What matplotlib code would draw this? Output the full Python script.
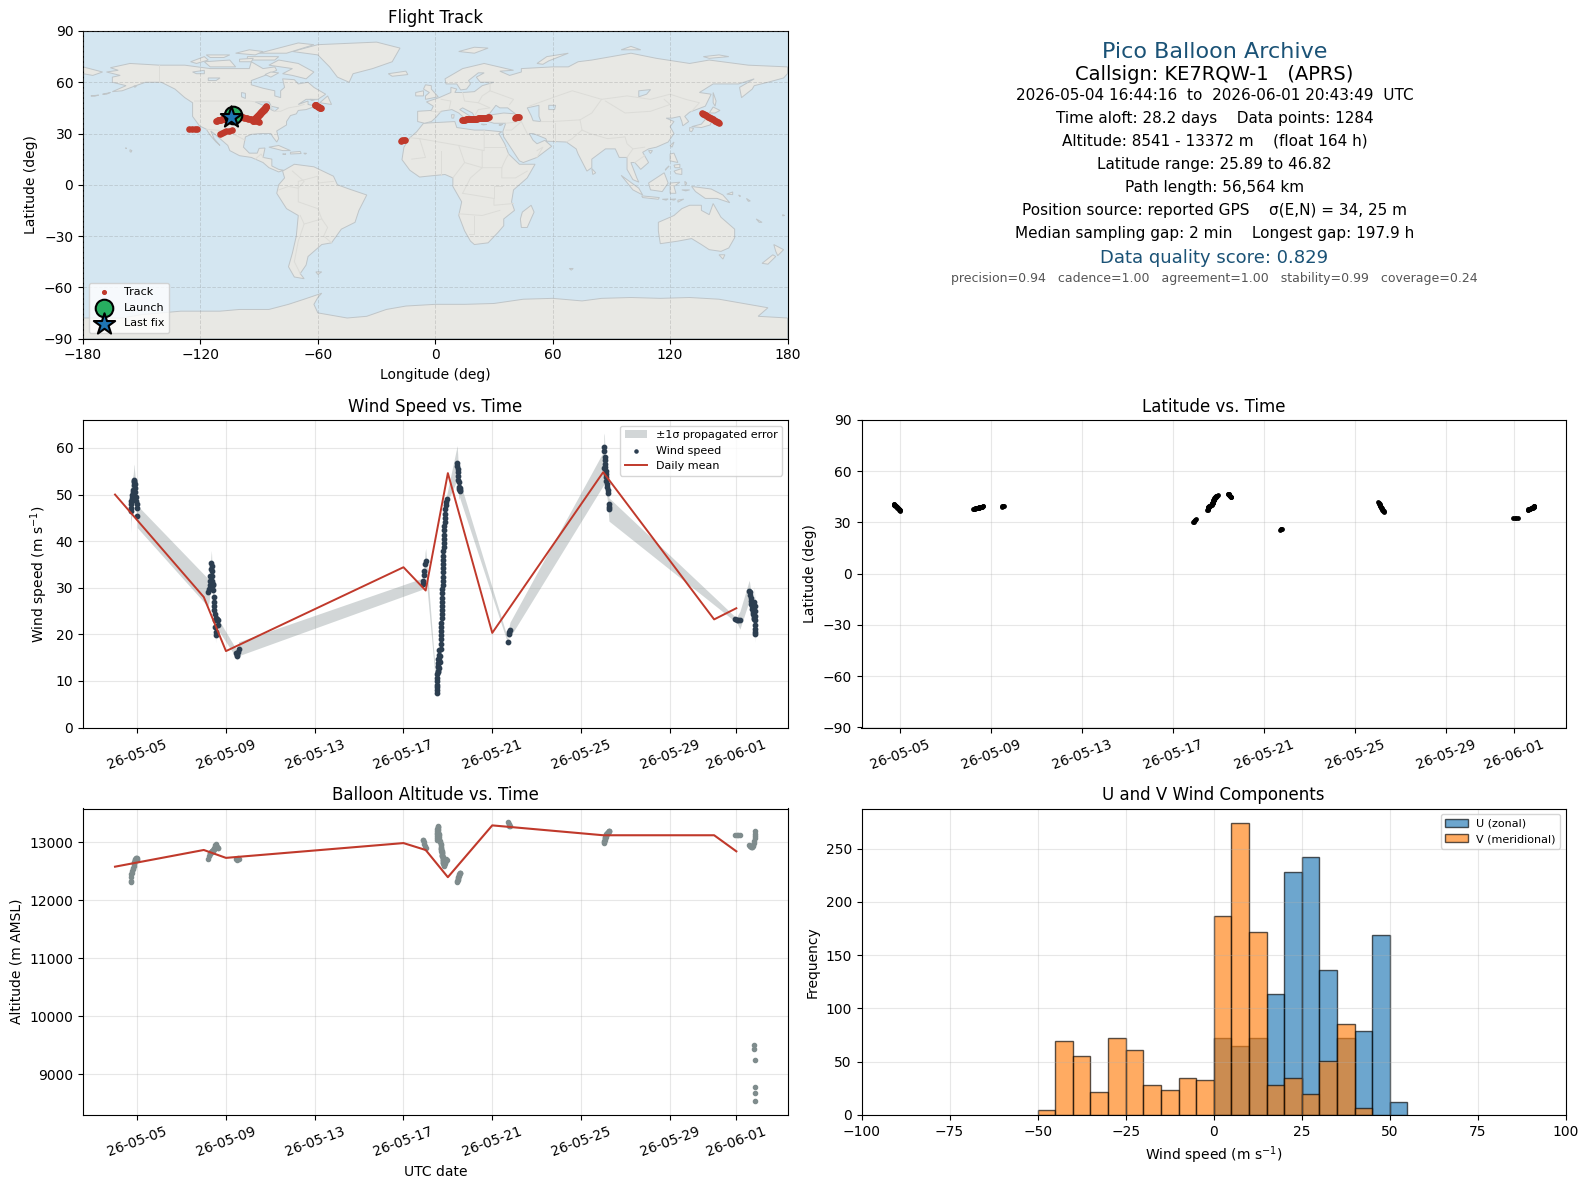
import numpy as np
import matplotlib
matplotlib.use("Agg")
import matplotlib.pyplot as plt
import matplotlib.dates as mdates

# ---- per-fix values (day = day of May 2026, 32 = 1 June)
day = [4.70,4.71,4.72,4.74,4.76,4.78,4.80,4.82,4.84,4.85,4.86,4.87,4.88,4.90,4.92,4.94,4.96,4.98,4.99,5.00,
       8.18,8.24,8.26,8.28,8.30,8.32,8.34,8.35,8.36,8.37,8.38,8.40,8.42,8.43,8.45,8.46,8.47,8.48,8.50,8.51,8.52,8.53,8.54,8.56,8.58,8.60,8.62,8.65,
       9.45,9.48,9.50,9.53,9.57,
       17.88,17.90,17.92,17.94,17.97,18.00,
       18.50,18.51,18.52,18.52,18.53,18.53,18.53,18.54,18.54,18.55,18.55,18.56,18.57,18.58,18.59,18.60,18.62,18.64,18.66,18.68,
       18.69,18.69,18.70,18.70,18.70,18.71,18.72,18.73,18.74,18.74,18.74,18.75,18.75,18.75,18.76,18.76,18.77,18.78,18.79,18.79,
       18.79,18.80,18.80,18.81,18.81,18.82,18.82,18.83,18.84,18.85,18.86,18.87,18.88,18.90,18.91,18.95,
       19.42,19.43,19.44,19.45,19.46,19.47,19.48,19.49,19.51,19.53,19.55,19.56,
       21.71,21.74,21.75,21.80,
       26.02,26.03,26.05,26.07,26.08,26.09,26.10,26.11,26.12,26.13,26.14,26.16,26.18,26.20,26.22,26.24,26.25,26.26,
       31.96,32.02,32.08,32.16,
       32.58,32.60,32.62,32.64,32.66,32.68,32.70,32.72,32.74,32.76,32.78,32.79,32.80,32.81,32.82,32.83,32.84,32.845,32.85,32.855,32.86,32.863]
wind = [46.5,47.2,48,48.7,49.3,50,50.5,51,52,52.8,53.2,53,52.2,51.4,50.5,49.5,48.7,48,47.2,45.3,
        29.0,29.8,30.5,31.5,32.5,34,35.3,34.6,33.5,32.5,31.5,30.8,30.5,29.5,28,27,26,25.2,24.4,23,21.5,19.8,20.6,23.4,23,23.3,23,22.1,
        16,15.5,15.3,16.2,16.9,
        30.9,31.5,32.8,33.5,35,35.8,
        7.5,8,8.6,9.2,9.9,10.6,11.4,12.2,13,13.8,14.6,12,13.2,14.4,15.6,16.6,12.8,14,15.4,16.8,
        18,18.9,19.8,20.7,21.6,22.5,23.4,24.3,25.2,26.1,27,27.9,28.8,29.7,30.6,31.5,32.4,33.3,34.2,35.1,
        36,36.9,37.8,38.7,39.6,40.5,41.4,42.3,43.2,44.1,45,45.9,46.8,47.7,48.5,49.1,
        56.8,56.2,55.5,54.8,54,53.2,52.6,51.6,51.2,51.5,51,50.7,
        18.4,20,20.5,21,
        55.7,59.3,60.2,58,57.4,56.6,55.9,55.1,54.4,53.7,52.9,52.2,51.6,50.9,50.3,48,47.4,46.8,
        23.2,23.1,23.1,23.0,
        29.4,29.0,28.4,27.8,27.2,26.6,26.0,25.4,24.8,24.4,24.0,23.6,23.2,27.0,26.0,25.0,24.0,23.0,22.0,21.2,20.4,20.0]
sigma = [4.7,4.5,4.0,3.8,3.5,3.5,3.4,3.4,3.4,3.4,3.3,3.2,3.0,2.8,2.6,2.5,2.4,2.3,2.2,2.4,
         3.0,2.8,2.6,2.6,2.7,2.7,2.7,2.7,2.6,2.5,2.4,2.3,2.2,2.1,2.0,1.9,1.8,1.8,1.7,1.7,1.6,1.6,1.6,1.5,1.4,1.3,1.3,1.2,
         0.9,0.8,0.8,0.8,1.5,
         1.2,0.9,1.2,1.5,2.5,2.7,
         0.6,0.6,0.6,0.6,0.6,0.6,0.6,0.6,0.6,0.6,0.7,0.7,0.7,0.7,0.7,0.7,0.7,0.7,0.7,0.7,
         0.7,0.7,0.7,0.7,0.7,0.7,0.7,0.7,0.7,0.7,0.7,0.7,0.7,0.7,0.7,0.7,0.7,0.7,0.7,0.7,
         0.7,0.7,0.7,0.7,0.7,0.7,0.7,0.7,0.8,0.8,0.8,0.8,0.8,0.8,0.8,0.9,
         3.7,3.5,3.4,3.2,3,2.8,2.6,2.4,2.2,2,1.9,1.8,
         0.5,0.8,1,1.6,
         3.6,3.4,3.0,2.9,2.8,2.8,2.8,2.7,2.7,2.7,2.6,2.6,2.6,2.6,2.5,2.5,2.5,2.5,
         0.5,0.6,1.2,1.9,
         2.2,2.1,2,2,1.9,1.9,1.8,1.8,1.7,1.7,1.6,1.6,1.6,3.4,3.2,3,2.8,2.6,2.4,2.2,1.9,1.7]
alt = [12310,12340,12400,12450,12470,12510,12540,12560,12590,12620,12650,12670,12690,12700,12720,12730,12740,12730,12720,12700,
       12710,12760,12800,12810,12820,12830,12830,12840,12850,12850,12860,12860,12860,12870,12880,12880,12890,12900,12910,12930,12950,12970,12960,12940,12930,12920,12910,12910,
       12710,12700,12710,12730,12720,
       13050,13040,13000,12980,12940,12910,
       13050,13080,13110,13140,13170,13200,13230,13260,13280,13270,13240,13210,13180,13150,13120,13090,13060,13030,13000,12970,
       12950,12930,12910,12890,12880,12860,12850,12840,12820,12810,12790,12780,12770,12760,12750,12730,12720,12700,12690,12680,
       12670,12650,12640,12630,12620,12610,12600,12610,12620,12640,12650,12660,12680,12690,12710,12700,
       12310,12330,12350,12370,12390,12410,12430,12440,12460,12470,12480,12480,
       13345,13310,13290,13280,
       12995,13010,13030,13050,13070,13080,13090,13100,13120,13130,13140,13150,13160,13170,13180,13190,13200,13205,
       13130,13135,13130,13120,
       12950,12945,12940,12935,12930,12935,12925,12930,12945,12960,12990,9500,9440,13030,9250,13070,8790,13110,8680,13150,8541,13190]
lat = [40.8,40.6,40.4,40.2,40.0,39.8,39.6,39.4,39.2,39.0,38.8,38.6,38.4,38.2,38.0,37.8,37.6,37.4,37.2,37.0,
       38.0,38.05,38.1,38.15,38.2,38.25,38.3,38.35,38.4,38.45,38.5,38.55,38.6,38.65,38.7,38.75,38.8,38.85,38.9,38.95,39.0,39.05,39.1,39.15,39.2,39.3,39.4,39.5,
       39.3,39.4,39.5,39.5,39.5,
       30.0,30.4,30.8,31.2,31.6,32.0,
       37.5,37.6,37.8,37.9,38.1,38.2,38.4,38.5,38.7,38.8,39.0,39.1,39.3,39.4,39.6,39.7,39.9,40.0,40.2,40.3,
       40.5,40.6,40.8,40.9,41.1,41.2,41.4,41.5,41.7,41.8,42.0,42.1,42.3,42.4,42.6,42.7,42.9,43.0,43.2,43.3,
       43.5,43.6,43.8,43.9,44.1,44.2,44.4,44.5,44.7,44.8,45.0,45.1,45.3,45.4,45.6,45.9,
       46.8,46.7,46.6,46.4,46.2,46.0,45.8,45.6,45.4,45.2,45.0,44.8,
       25.9,26.0,26.1,26.2,
       41.8,41.6,41.2,40.9,40.6,40.2,39.9,39.6,39.2,38.9,38.6,38.2,37.9,37.6,37.2,36.9,36.5,36.0,
       32.5,32.6,32.8,32.9,
       37.5,37.6,37.7,37.8,37.9,38.0,38.1,38.2,38.3,38.4,38.5,38.6,38.7,38.8,38.9,39.0,39.1,39.2,39.3,39.4,39.6,39.8]
lon = [-103.2,-102.5,-101.8,-101.1,-100.4,-99.7,-99.0,-98.3,-97.6,-96.9,-96.2,-95.5,-94.8,-94.1,-93.4,-92.7,-92.0,-91.3,-90.6,-89.9,
       13.8,14.3,14.8,15.3,15.8,16.3,16.8,17.3,17.8,18.3,18.8,19.3,19.8,20.3,20.8,21.3,21.8,22.3,22.8,23.3,23.8,24.3,24.8,25.3,25.8,26.3,26.8,27.4,
       41.0,41.5,42.0,42.5,43.0,
       -110,-109,-108,-107,-105.5,-104,
       -93,-92.9,-92.8,-92.6,-92.5,-92.4,-92.3,-92.2,-92.0,-91.9,-91.8,-91.7,-91.5,-91.4,-91.3,-91.2,-91.0,-90.9,-90.8,-90.7,
       -90.5,-90.4,-90.3,-90.2,-90.0,-89.9,-89.8,-89.7,-89.5,-89.4,-89.3,-89.2,-89.0,-88.9,-88.8,-88.7,-88.5,-88.4,-88.3,-88.2,
       -88.0,-87.9,-87.8,-87.7,-87.5,-87.4,-87.3,-87.2,-87.1,-87.0,-86.9,-86.8,-86.7,-86.6,-86.5,-86.4,
       -61.7,-61.4,-61.1,-60.8,-60.5,-60.2,-59.9,-59.6,-59.3,-59.0,-58.7,-58.3,
       -17.5,-17,-16,-15.5,
       136.5,137,137.5,138,138.5,139,139.5,140,140.5,141,141.5,142,142.5,143,143.5,144,144.5,145,
       -126,-124.5,-123,-121.6,
       -112,-111.6,-111.2,-110.8,-110.4,-110,-109.6,-109.2,-108.8,-108.4,-108,-107.6,-107.2,-106.8,-106.4,-106,-105.8,-105.6,-105.4,-105.2,-104.8,-104.4]

# ---- daily means
mean_day = [4, 8, 9, 17, 18, 19, 21, 26, 31, 32]
mean_wind = [50.0, 28.0, 16.4, 34.4, 29.4, 54.6, 20.3, 54.8, 23.2, 25.6]
mean_alt = [12582, 12870, 12734, 12989, 12870, 12401, 13294, 13124, 13124, 12847]

# ---- histogram counts per 5 m/s bin
u_edges = [0, 5, 10, 15, 20, 25, 30, 35, 40, 45, 50]
u_count = [72, 65, 72, 114, 228, 242, 136, 72, 79, 169, 12]
v_edges = [-50, -45, -40, -35, -30, -25, -20, -15, -10, -5, 0, 5, 10, 15, 20, 25, 30, 35, 40]
v_count = [5, 69, 55, 22, 72, 61, 28, 23, 35, 33, 187, 274, 172, 28, 35, 20, 51, 85, 7]

# ---- base map outlines (lon, lat)
land_polys = [
 [(-168,66),(-162,67),(-166,68.5),(-156,71),(-141,70),(-128,70),(-115,68),(-108,68),(-95,68),(-94,72),(-88,68),(-82,69),(-81,67),(-87,64),(-94,61),(-94,58.5),(-88,56.5),(-82,55),(-82,52),(-79,51),(-79,55),(-77,57),(-78,62),(-72,61.5),(-70,59),(-65,60),(-62,57),(-56,53),(-60,50),(-66,50),(-70,47),(-65,49),(-65,47),(-61,46),(-66,44),(-70,43.5),(-71,41.5),(-74,40.5),(-76,37),(-76,35),(-81,31.5),(-80,27),(-81,25),(-83,28),(-84,30),(-89,30),(-94,29.5),(-97,28),(-98,22),(-95,18.5),(-91,18.5),(-90,21.3),(-87,21.5),(-88,16),(-83.5,15),(-83.5,11),(-80,9),(-77.5,8.5),(-80,7.5),(-85,10),(-88,13),(-94,16),(-100,17),(-105,20),(-106,23),(-112,29),(-114.7,31.5),(-113,27),(-110,23),(-112,25),(-115,29),(-117,32.5),(-120.5,34.5),(-124,40),(-124,48),(-128,51),(-133,56),(-140,60),(-148,60),(-153,58),(-160,55),(-165,54.5),(-158,58),(-165,60),(-165,63),(-161,64)],
 [(-73,78),(-60,82),(-30,83.5),(-18,80),(-22,72),(-32,68),(-42,65),(-44,60),(-50,63),(-54,69),(-60,76)],
 [(-80,73),(-70,71),(-62,66),(-66,62),(-73,64),(-78,65),(-73,68),(-85,70)],
 [(-118,72),(-105,73),(-102,69),(-115,69)],
 [(-90,77),(-70,83),(-62,82),(-76,77)],
 [(-125,72),(-118,75),(-116,73),(-122,71)],
 [(-96,75),(-80,75),(-82,73),(-96,73)],
 [(-117,76),(-105,76),(-108,74.5),(-115,74.5)],
 [(-102,77),(-95,79),(-88,78),(-92,76)],
 [(-100,73.5),(-93,74),(-94,72),(-100,72)],
 [(-84,66),(-80,65.5),(-84,63),(-87,64.5)],
 [(-59,48),(-55,52),(-53,47)],
 [(-64,50),(-61.5,49.8),(-63,49.2)],
 [(-85,22),(-80,23),(-74,20),(-78,20)],
 [(-74,19),(-69,19.5),(-68.5,18.3),(-74,18)],
 [(-78,18),(-76.3,18),(-77,17.7)],
 [(-67.2,18.5),(-65.7,18.4),(-66.5,17.9)],
 [(-156,20.5),(-155,20),(-155.5,19),(-156,19.5)],
 [(-158.3,21.6),(-157.7,21.4),(-158,21.2)],
 [(-154,57.8),(-152.5,58),(-153.5,57)],
 [(-170,53),(-166,54),(-168,53)],
 [(-176,52),(-172,52.5),(-174,51.8)],
 [(-78,8),(-72,12),(-62,10.5),(-52,5),(-50,0),(-44,-2.5),(-35,-6),(-39,-15),(-41,-22),(-48,-26),(-53,-34),(-58,-35),(-62,-39),(-65,-42),(-66,-47),(-69,-52),(-67,-55),(-72,-54),(-75,-48),(-73,-40),(-71,-30),(-70,-18),(-76,-14),(-81,-5),(-80,0),(-77,4)],
 [(-61,-51),(-58,-51),(-60,-52.5)],
 [(-6,36),(10,37),(11,33.5),(20,32),(25,32),(34,31),(32.5,30),(35.5,24),(37.5,18),(43,12),(51,12),(47,4),(40,-3),(39,-10),(40.5,-15),(35,-20),(35,-24),(32,-28),(27,-34),(20,-35),(18,-33),(15,-27),(12,-18),(13.5,-10),(9,-1),(9,4),(5,6),(-4,5),(-8,4.5),(-13,8.5),(-17,14.7),(-16,22),(-13,27.5),(-9.5,31)],
 [(49,-12),(50.5,-16),(47,-25),(44,-25),(43.5,-20),(44.5,-16)],
 [(68.5,-49),(70.5,-49),(69.5,-50)],
 [(-9,37),(-9,43),(-2,43.5),(-1,46),(-4.5,48.5),(2,51),(8,54),(8,57),(11,56),(10,54),(14,54),(20,54.5),(24,58),(30,60),(23,60),(21,63),(25,65.5),(22,65.5),(17,61),(18,59),(16,56),(13,55.5),(11,59),(5.5,59),(5,62),(14,68),(25,71),(40,67),(33,66.5),(38,64),(44,66),(44,68),(60,69),(68,69),(73,72),(80,73),(100,77),(113,74),(130,71),(140,73),(160,70),(180,69),(180,65),(178,62.5),(170,60),(163,58),(162,56),(156.5,51),(155.5,57),(163,62),(155,59),(142,59),(135,54),(141,53),(138,46),(130,42.5),(127.5,40),(129.5,37),(126.5,34.5),(126,37),(125,40),(121,39),(118,39),(122,37),(120,34),(122,30),(119,25),(113,22),(109,21),(106,19),(109,13),(105,9),(102,13),(100,13),(103,4),(104,1.5),(101,3),(98,9),(98,16),(94,16),(92,21),(87,21),(80,15),(80,10),(77.5,8),(73,18),(72,21),(67,25),(57,25.5),(56.5,27),(50,30),(48,30),(50,26),(52,24),(56,26),(59.5,22.5),(52,16),(45,13),(43,14),(39,21),(35,28),(34.5,31),(36,36),(30,36),(27,37),(26.5,39.5),(29,41),(35,42),(41,41.5),(37,45),(33,45),(31,46.5),(28,42),(26,40.5),(23,40),(23,37),(20,40),(19,42),(14,45),(12.5,44),(18,40),(16,38),(12,42),(8.5,44),(3,43),(0,39),(-2,37),(-5.5,36)],
 [(-180,69),(-170,66),(-175,64),(-180,65)],
 [(-5,50),(1.5,51.5),(-2,56),(-2,58),(-5,58.5),(-6,56),(-3,54),(-5,52)],
 [(-10,52),(-6,52),(-6,55),(-10,54)],
 [(-24,65),(-15,66.5),(-14,64.5),(-22,63.5)],
 [(52,71),(57,75),(68,77),(58,72.5),(55,70.5)],
 [(12,78),(20,80.5),(27,80),(20,77)],
 [(95,79),(105,79),(100,81)],
 [(137,75),(145,76),(150,75),(140,74)],
 [(142,54),(143.5,49),(143,46),(142,48)],
 [(131,34),(136,35.5),(140,41),(142,39.5),(140.5,35),(136,33.5)],
 [(140,42),(142,45.5),(145.5,43.5),(143,42)],
 [(130,33.5),(132,33),(131,31),(130,31.5)],
 [(120,23),(122,25),(121,22)],
 [(109,20),(111,20),(110,18.3)],
 [(80,9.5),(82,7),(80.5,6)],
 [(120,18),(122,18.5),(124,13),(120,14)],
 [(122,8),(126,9.5),(126,6),(123,6.5)],
 [(122,11.5),(125,12),(125,10),(122.5,10)],
 [(118,9.5),(119.5,11),(117.5,8.5)],
 [(109,1),(117,7),(119,1),(116,-4),(110,-3)],
 [(95,5.5),(104,-2),(106,-6),(101,-3)],
 [(105.5,-6.5),(114.5,-7.5),(114,-8.5),(106,-7.5)],
 [(116,-8.5),(119,-8.3),(118,-9)],
 [(120,-8.5),(123,-8.3),(122,-9)],
 [(124,-9),(127,-8.4),(124,-10.2)],
 [(120,1),(125,1.5),(122,-1),(123,-5),(120,-5)],
 [(127.5,2),(128.5,1),(127.8,-0.7)],
 [(126,-3),(130,-3),(128,-3.6)],
 [(131,-1),(141,-2.5),(147,-6),(150.5,-10.5),(144,-8),(138,-8),(133,-4)],
 [(149,-5.5),(152,-4.2),(152,-5.8)],
 [(155,-6),(156,-6.5),(155.7,-7)],
 [(159,-8),(161,-9.5),(160,-9.7)],
 [(164,-20),(167,-22),(165.5,-22)],
 [(177.5,-17.5),(178.6,-18),(177.5,-18.2)],
 [(114,-22),(122,-18),(126,-14),(130,-12),(136,-12),(136,-15),(140,-17.5),(142,-11),(146,-19),(153,-26),(153,-31),(150,-37),(146,-39),(140,-38),(136,-35),(131,-31.5),(124,-33),(115,-34.5),(114,-27)],
 [(145,-41),(148,-41),(147,-43.5)],
 [(173,-35),(178,-38),(175,-41.5),(174,-39)],
 [(172.5,-41),(174,-42),(170,-46.5),(167,-46)],
 [(12.5,38),(15.5,38),(15,36.8)],
 [(8.3,41),(9.7,41),(9.4,39),(8.5,39)],
 [(23.6,35.5),(26.2,35.3),(24.5,35)],
 [(32.5,35),(34.5,35.5),(33.5,34.7)],
 [(-180,-78),(-160,-78),(-150,-76),(-130,-74),(-110,-74),(-100,-73),(-85,-73),(-75,-70),(-67,-67),(-58,-63.5),(-60,-66),(-62,-70),(-60,-75),(-45,-78),(-35,-77),(-25,-73),(-15,-71),(0,-70),(15,-70),(30,-69.5),(45,-67),(60,-66.5),(75,-68),(85,-66.5),(100,-66),(115,-66.5),(130,-66),(145,-67),(160,-70),(170,-72),(165,-77),(180,-78),(180,-90),(-180,-90)],
]
water_polys = [
 [(47,45),(53,46.5),(53,40),(54,37),(50,37.5),(49,40.5)],
 [(-92,48.5),(-85,48.5),(-84,46.5),(-88,46.5)],
 [(-88,46),(-85,46),(-86,42),(-88,42)],
 [(-84,46),(-80,45),(-82,43),(-84,44)],
 [(-124,66),(-118,67),(-118,65),(-122,65)],
 [(-116,62.5),(-110,62.5),(-112,61),(-116,61)],
 [(-99,54),(-97,53.5),(-97,50.5),(-99,51.5)],
 [(58,46.5),(61.5,46.5),(61,44),(58,44)],
 [(104,55),(110,55.7),(108,53),(104,51.5)],
]
border_lines = [
 [(-123,49),(-95,49),(-88,48),(-84,46),(-82,43),(-79,43),(-75,45),(-70,46),(-67,47)],
 [(-141,70),(-141,60)], [(-117,32.5),(-107,31.5),(-102,29),(-97,26)], [(-92,15),(-89,18),(-88,16)],
 [(-70,-2),(-70,-10),(-60,-14),(-58,-20),(-55,-25),(-57,-30),(-53,-34)], [(-70,-2),(-70,2),(-60,5),(-60,1),(-52,2)],
 [(-73,8),(-67,2),(-70,-2),(-75,-1),(-80,-3)], [(-69,-18),(-67,-23),(-70,-33),(-72,-45),(-69,-52)], [(-67,-23),(-58,-20)],
 [(-13,27.5),(-8,27),(12,23),(25,20),(25,32)], [(25,22),(36,22)], [(-8,27),(-5,16),(-12,15)], [(3,20),(3,12),(3,6)],
 [(12,23),(15,13),(9,4)], [(15,13),(24,10),(24,20)], [(24,10),(34,10),(36,15),(37.5,18)], [(34,10),(34,4),(41,4),(47,8)],
 [(14,-5),(30,-8),(30,-12),(40,-11)], [(12,-17),(24,-18),(33,-15)], [(20,-18),(20,-29),(17,-29)], [(34,-1),(30,-1),(30,-8)], [(14,-5),(18,4),(24,10)],
 [(-2,43),(3,42.5)], [(3,50),(8,49),(7,44)], [(14,54),(15,49),(22,48),(24,52),(28,55),(28,60)], [(22,48),(28,45),(22,44),(20,40)],
 [(28,55),(40,50),(38,47)], [(48,46),(60,51),(70,55),(85,50),(98,52),(110,50),(120,53),(128,50),(135,48),(131,43)],
 [(85,50),(80,42),(74,38),(60,37),(54,37)], [(74,38),(75,32),(79,30),(88,27),(97,28),(98,24),(101,21),(107,22)], [(61,36),(61,25)], [(75,32),(70,27),(67,25)],
 [(44,37),(47,30)], [(36,32),(39,32),(44,37)], [(36,36),(44,37),(44,40)], [(52,20),(55,22),(52,16)], [(98,16),(101,21)],[(102,13),(107,17)],
 [(87,49),(97,42),(110,43),(120,47),(117,50)],
]

track_color = "#c0392b"; wind_color = "#2c3e50"; alt_color = "#7f8c8d"; head_color = "#1a5276"

W, H = 1590, 1189
def t_num(d):
    return mdates.date2num(np.datetime64("2026-05-01")) + np.asarray(d, float) - 1

def add_ax(fig, l, t, r, b):
    return fig.add_axes([l / W, 1 - b / H, (r - l) / W, (b - t) / H])

def date_axis(ax):
    ax.xaxis.set_major_locator(mdates.DayLocator(bymonthday=range(1, 32, 4)))
    ax.xaxis.set_major_formatter(mdates.DateFormatter("%y-%m-%d"))
    ax.tick_params(axis="x", labelrotation=20)
    ax.grid(True, alpha=0.3)
    ax.set_axisbelow(True)

fig = plt.figure(figsize=(15.9, 11.89), dpi=100)
LX0, LX1, RX0, RX1 = 83, 787.5, 861.5, 1566
TOP2, BOT2, TOP3, BOT3 = 420, 727.5, 808.5, 1115

# ---- map
ax = add_ax(fig, LX0, 31, LX1, 338.5)
ax.set_facecolor("#d4e6f1")
for poly in land_polys:
    ax.fill(*zip(*poly), facecolor="#e8e8e4", edgecolor="#bfc5c8", lw=0.7, zorder=1)
for poly in water_polys:
    ax.fill(*zip(*poly), facecolor="#d4e6f1", edgecolor="#bfc5c8", lw=0.7, zorder=1.1)
for line in border_lines:
    ax.plot(*zip(*line), color="#dcdcd8", lw=0.7, zorder=1.2)
ax.scatter(lon, lat, s=14, color=track_color, label="Track", zorder=3)
ax.scatter(lon[0], lat[0], s=160, color="#27ae60", edgecolor="black", lw=1.5, label="Launch", zorder=4)
ax.scatter(lon[-1], lat[-1], s=260, marker="*", color="#1f77b4", edgecolor="black", lw=1.5, label="Last fix", zorder=5)
ax.set_xlim(-180, 180); ax.set_ylim(-90, 90)
ax.set_xticks(range(-180, 181, 60)); ax.set_yticks(range(-90, 91, 30))
ax.set_xticklabels(["\u2212180", "\u2212120", "\u221260", "0", "60", "120", "180"])
ax.set_yticklabels(["\u221290", "\u221260", "\u221230", "0", "30", "60", "90"])
ax.grid(True, color="#808080", alpha=0.25, lw=0.7, linestyle="--", zorder=2)
ax.set_axisbelow(False)
ax.set_title("Flight Track", fontsize=12)
ax.set_xlabel("Longitude (deg)"); ax.set_ylabel("Latitude (deg)")
leg = ax.legend(loc="lower left", fontsize=8, framealpha=0.8)
leg.legend_handles[0].set_sizes([7])

# ---- summary text
cx = 1214.5
summary = [
 (51.5, "Pico Balloon Archive", 16, head_color),
 (74, "Callsign: KE7RQW-1   (APRS)", 14, "black"),
 (95.5, "2026-05-04 16:44:16  to  2026-06-01 20:43:49  UTC", 11, "black"),
 (118.5, "Time aloft: 28.2 days    Data points: 1284", 11, "black"),
 (141.5, "Altitude: 8541 - 13372 m    (float 164 h)", 11, "black"),
 (164.5, "Latitude range: 25.89 to 46.82", 11, "black"),
 (187.5, "Path length: 56,564 km", 11, "black"),
 (210.5, "Position source: reported GPS    \u03c3(E,N) = 34, 25 m", 11, "black"),
 (233.5, "Median sampling gap: 2 min    Longest gap: 197.9 h", 11, "black"),
 (258, "Data quality score: 0.829", 13, head_color),
 (278.5, "precision=0.94   cadence=1.00   agreement=1.00   stability=0.99   coverage=0.24", 9, "#555555"),
]
for y, s, fs, c in summary:
    fig.text(cx / W, 1 - y / H, s, fontsize=fs, color=c, ha="center", va="center")

# ---- wind
t = t_num(day)
w = np.array(wind); sg = np.array(sigma)
ax = add_ax(fig, LX0, TOP2, LX1, BOT2)
ax.fill_between(t, w - sg, w + sg, color=alt_color, alpha=0.35, lw=0, label="\u00b11\u03c3 propagated error")
ax.scatter(t, w, s=10, color=wind_color, label="Wind speed", zorder=3)
ax.plot(t_num(mean_day), mean_wind, color=track_color, lw=1.4, label="Daily mean", zorder=4)
date_axis(ax)
ax.set_ylim(0, 66)
ax.set_title("Wind Speed vs. Time", fontsize=12)
ax.set_ylabel("Wind speed (m s$^{-1}$)")
leg = ax.legend(loc="upper right", fontsize=8)
leg.legend_handles[1].set_sizes([5])

# ---- latitude
ax = add_ax(fig, RX0, TOP2, RX1, BOT2)
ax.scatter(t, lat, s=6, color="black", zorder=3)
date_axis(ax)
ax.set_ylim(-90, 90); ax.set_yticks(range(-90, 91, 30))
ax.set_yticklabels(["\u221290", "\u221260", "\u221230", "0", "30", "60", "90"])
ax.set_title("Latitude vs. Time", fontsize=12)
ax.set_ylabel("Latitude (deg)")

# ---- altitude
ax = add_ax(fig, LX0, TOP3, LX1, BOT3)
ax.scatter(t, alt, s=9, color=alt_color, zorder=3)
ax.plot(t_num(mean_day), mean_alt, color=track_color, lw=1.5, zorder=4)
date_axis(ax)
ax.set_title("Balloon Altitude vs. Time", fontsize=12)
ax.set_xlabel("UTC date"); ax.set_ylabel("Altitude (m AMSL)")

# ---- histogram
ax = add_ax(fig, RX0, TOP3, RX1, BOT3)
ax.bar(u_edges, u_count, width=5, align="edge", color="#1f77b4", edgecolor="black", alpha=0.65, label="U (zonal)")
ax.bar(v_edges, v_count, width=5, align="edge", color="#ff7f0e", edgecolor="black", alpha=0.65, label="V (meridional)")
ax.set_xlim(-100, 100)
ax.grid(True, alpha=0.3)
ax.set_title("U and V Wind Components", fontsize=12)
ax.set_xlabel("Wind speed (m s$^{-1}$)"); ax.set_ylabel("Frequency")
ax.legend(loc="upper right", fontsize=8)

fig.savefig("out.png", dpi=100)
